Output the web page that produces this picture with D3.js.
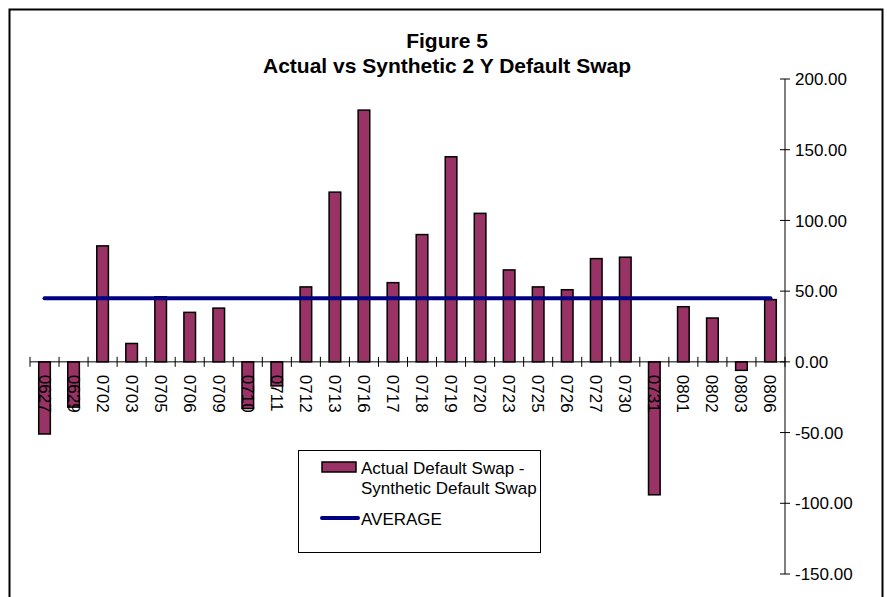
<!DOCTYPE html>
<html>
<head>
<meta charset="utf-8">
<script src="https://cdn.jsdelivr.net/npm/d3@7"></script>
<style>
  html, body { margin: 0; padding: 0; background: #fff; }
  svg { display: block; font-family: Arial, "Liberation Sans", sans-serif; }
</style>
</head>
<body>
<svg id="chart" width="887" height="597"></svg>
<script>
// Trade dates (MMDD) and the spread difference.
const dates = ["0627", "0629", "0702", "0703", "0705", "0706", "0709", "0710",
  "0711", "0712", "0713", "0716", "0717", "0718", "0719", "0720", "0723",
  "0725", "0726", "0727", "0730", "0731", "0801", "0802", "0803", "0806"];
const diffValues = [-51, -32, 82, 13, 46, 35, 38, -33, -17, 53, 120, 178, 56,
  90, 145, 105, 65, 53, 51, 73, 74, -94, 39, 31, -6, 44];
const averageValue = 45;
const yTicks = [200, 150, 100, 50, 0, -50, -100, -150];

const svg = d3.select("#chart");

// outer frame of the chart object
svg.append("rect")
  .attr("x", 9.5).attr("y", 9.5)
  .attr("width", 873).attr("height", 600)
  .attr("fill", "none").attr("stroke", "#000").attr("stroke-width", 2);

const x = d3.scaleBand().domain(dates).range([30, 785]).paddingInner(0).paddingOuter(0);
const y = d3.scaleLinear().domain([-150, 200]).range([574, 79]);

const barW = x.bandwidth() * 0.4;

// bars
svg.append("g").selectAll("rect")
  .data(diffValues)
  .join("rect")
  .attr("x", (d, i) => x(dates[i]) + (x.bandwidth() - barW) / 2)
  .attr("y", d => y(Math.max(0, d)))
  .attr("width", barW)
  .attr("height", d => Math.abs(y(d) - y(0)))
  .attr("fill", "#993366")
  .attr("stroke", "#000")
  .attr("stroke-width", 1.5);

// x axis along zero, ticks crossing the line
const xAxis = svg.append("g").attr("transform", `translate(0,${y(0)})`);
xAxis.append("line")
  .attr("x1", 30).attr("x2", 785)
  .attr("stroke", "#000");
const tickX = dates.map(d => x(d)).concat([785]);
xAxis.selectAll("line.tick")
  .data(tickX)
  .join("line")
  .attr("class", "tick")
  .attr("x1", d => d).attr("x2", d => d)
  .attr("y1", -5).attr("y2", 5)
  .attr("stroke", "#000");

// category labels rotated, reading top-down
xAxis.selectAll("text")
  .data(dates)
  .join("text")
  .attr("transform", d => `translate(${x(d) + x.bandwidth() / 2 - 6},13) rotate(90)`)
  .attr("font-size", 17)
  .attr("fill", "#000")
  .text(d => d);

// average line
const avgLine = d3.line()
  .x(d => x(d) + x.bandwidth() / 2)
  .y(() => y(averageValue));
svg.append("path")
  .attr("d", avgLine(dates))
  .attr("fill", "none")
  .attr("stroke", "#000080")
  .attr("stroke-width", 4)
  .attr("stroke-linecap", "round");

// right-hand value axis
const yAxis = svg.append("g").attr("transform", "translate(785,0)");
yAxis.append("line")
  .attr("y1", y(200)).attr("y2", y(-150))
  .attr("stroke", "#000");
const tickG = yAxis.selectAll("g")
  .data(yTicks)
  .join("g")
  .attr("transform", d => `translate(0,${y(d)})`);
tickG.append("line")
  .attr("x1", -5).attr("x2", 5)
  .attr("stroke", "#000");
tickG.append("text")
  .attr("x", 10).attr("dy", "0.36em")
  .attr("font-size", 17)
  .text(d => d3.format(".2f")(d).replace("−", "-"));

// title
const title = svg.append("g")
  .attr("text-anchor", "middle")
  .attr("font-weight", "bold")
  .attr("font-size", 21);
title.append("text").attr("x", 447).attr("y", 48).text("Figure 5");
title.append("text").attr("x", 447).attr("y", 73).text("Actual vs Synthetic 2 Y Default Swap");

// legend
const legend = svg.append("g");
legend.append("rect")
  .attr("x", 298.5).attr("y", 450.5)
  .attr("width", 242).attr("height", 102)
  .attr("fill", "#fff").attr("stroke", "#000");
legend.append("rect")
  .attr("x", 322).attr("y", 462)
  .attr("width", 34).attr("height", 10)
  .attr("fill", "#993366").attr("stroke", "#000").attr("stroke-width", 1.5);
legend.append("text").attr("x", 361).attr("y", 474).attr("font-size", 17)
  .text("Actual Default Swap -");
legend.append("text").attr("x", 361).attr("y", 494).attr("font-size", 17)
  .text("Synthetic Default Swap");
legend.append("line")
  .attr("x1", 322).attr("x2", 358)
  .attr("y1", 518).attr("y2", 518)
  .attr("stroke", "#000080").attr("stroke-width", 4)
  .attr("stroke-linecap", "round");
legend.append("text").attr("x", 361).attr("y", 525).attr("font-size", 17)
  .text("AVERAGE");
</script>
</body>
</html>
